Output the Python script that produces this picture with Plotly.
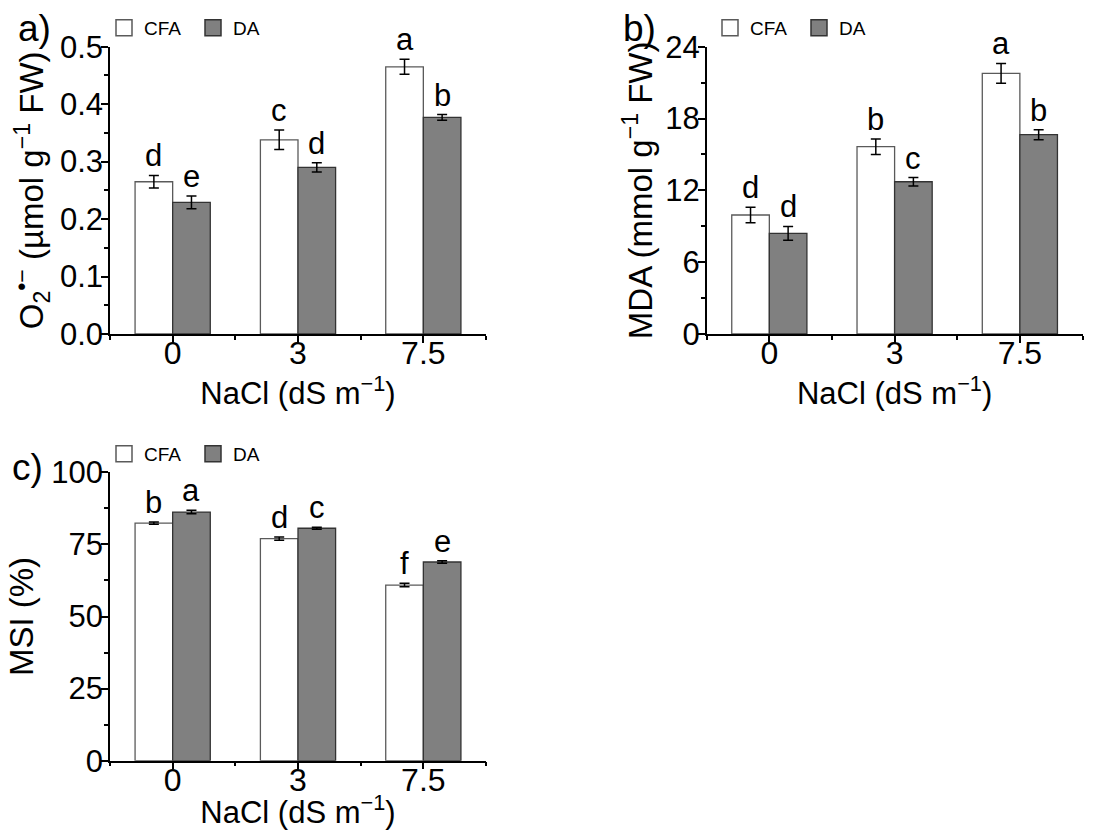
import plotly.graph_objects as go

# ---------------- data ----------------
nacl_labels = ["0", "3", "7.5"]
series_names = ["CFA", "DA"]

o2_cfa = [0.265, 0.338, 0.465]
o2_cfa_err = [0.011, 0.017, 0.013]
o2_da = [0.229, 0.290, 0.377]
o2_da_err = [0.011, 0.008, 0.005]
o2_cfa_letters = ["d", "c", "a"]
o2_da_letters = ["e", "d", "b"]

mda_cfa = [9.94, 15.65, 21.77]
mda_cfa_err = [0.64, 0.65, 0.83]
mda_da = [8.41, 12.72, 16.65]
mda_da_err = [0.58, 0.35, 0.42]
mda_cfa_letters = ["d", "b", "a"]
mda_da_letters = ["d", "c", "b"]

msi_cfa = [82.4, 77.0, 60.9]
msi_cfa_err = [0.4, 0.6, 0.6]
msi_da = [86.2, 80.6, 68.9]
msi_da_err = [0.6, 0.35, 0.45]
msi_cfa_letters = ["b", "d", "f"]
msi_da_letters = ["a", "c", "e"]

# ---------------- style ----------------
FONT = "Liberation Sans, Arial, sans-serif"
CFA_FILL, CFA_LINE = "white", "#5a5a5a"
DA_FILL, DA_LINE = "#808080", "#333333"
BAR_W = 0.3

fig = go.Figure()

panels = [
    dict(xa="x", ya="y", leg="legend", cfa=o2_cfa, cfae=o2_cfa_err, da=o2_da, dae=o2_da_err,
         lc=o2_cfa_letters, ld=o2_da_letters),
    dict(xa="x2", ya="y2", leg="legend2", cfa=mda_cfa, cfae=mda_cfa_err, da=mda_da, dae=mda_da_err,
         lc=mda_cfa_letters, ld=mda_da_letters),
    dict(xa="x3", ya="y3", leg="legend3", cfa=msi_cfa, cfae=msi_cfa_err, da=msi_da, dae=msi_da_err,
         lc=msi_cfa_letters, ld=msi_da_letters),
]

xpos = list(range(len(nacl_labels)))
annotations = []
for p in panels:
    for name, vals, errs, fill, line, letters, off in [
        ("CFA", p["cfa"], p["cfae"], CFA_FILL, CFA_LINE, p["lc"], -BAR_W / 2),
        ("DA", p["da"], p["dae"], DA_FILL, DA_LINE, p["ld"], BAR_W / 2),
    ]:
        fig.add_trace(go.Bar(
            x=xpos, y=vals, name=name, xaxis=p["xa"], yaxis=p["ya"],
            marker=dict(color=fill, line=dict(color=line, width=1.3)),
            error_y=dict(type="data", array=errs, visible=True, color="black",
                         thickness=1.5, width=5),
            showlegend=False,
        ))
        # legend proxy
        fig.add_trace(go.Scatter(
            x=[None], y=[None], mode="markers", name=name, xaxis=p["xa"], yaxis=p["ya"],
            marker=dict(symbol="square", size=22, color=fill, line=dict(color=line, width=1.5)),
            legend=p["leg"], showlegend=True,
        ))
        for i, (v, e, t) in enumerate(zip(vals, errs, letters)):
            annotations.append(dict(
                x=xpos[i] + off, y=v + e, xref=p["xa"], yref=p["ya"], text=t,
                showarrow=False, yanchor="bottom", xanchor="center", yshift=0,
                font=dict(family=FONT, size=31, color="black"),
            ))

# panel labels
for txt, x, y in [("a)", 0.031, 0.966), ("b)", 0.581, 0.966), ("c)", 0.025, 0.437)]:
    annotations.append(dict(x=x, y=y, xref="paper", yref="paper", text=txt, showarrow=False,
                            xanchor="center", yanchor="middle",
                            font=dict(family=FONT, size=37, color="black")))

def xaxis_cfg(domain, anchor):
    return dict(
        domain=domain, anchor=anchor, range=[-0.5, 2.5],
        tickmode="array", tickvals=xpos, ticktext=nacl_labels,
        showline=True, linecolor="black", linewidth=1.5,
        ticks="outside", ticklen=7, tickwidth=1.5, tickcolor="black",
        ticklabelstandoff=-17,
        minor=dict(tickmode="array", tickvals=[-0.5, 0.5, 1.5, 2.5], ticks="outside",
                   ticklen=4, tickwidth=1.5, tickcolor="black"),
        showgrid=False, zeroline=False, automargin=False,
        tickfont=dict(family=FONT, size=32, color="black"),
        title=dict(text="NaCl (dS m<sup>−1</sup>)", standoff=0,
                   font=dict(family=FONT, size=31, color="black")),
    )

def yaxis_cfg(domain, anchor, rng, dtick, minor_dtick, title, fmt, standoff):
    return dict(
        domain=domain, anchor=anchor, range=rng, dtick=dtick, tick0=0, tickformat=fmt,
        showline=True, linecolor="black", linewidth=1.5,
        ticks="outside", ticklen=7, tickwidth=1.5, tickcolor="black",
        ticklabelstandoff=-8,
        minor=dict(dtick=minor_dtick, tick0=0, ticks="outside", ticklen=4, tickwidth=1.5,
                   tickcolor="black"),
        showgrid=False, zeroline=False, automargin=False,
        tickfont=dict(family=FONT, size=31, color="black"),
        title=dict(text=title, standoff=standoff, font=dict(family=FONT, size=33, color="black")),
    )

top_dom = [1 - 334 / 830, 1 - 46.7 / 830]
bot_dom = [1 - 760.7 / 830, 1 - 472.3 / 830]
left_dom = [110 / 1100, 486 / 1100]
right_dom = [706.7 / 1100, 1082.5 / 1100]

def legend_cfg(x, y):
    return dict(x=x, y=y, xanchor="left", yanchor="middle", orientation="h",
                font=dict(family=FONT, size=19, color="black"), bgcolor="rgba(0,0,0,0)",
                itemsizing="trace", tracegroupgap=0, itemwidth=30,
                entrywidth=44, entrywidthmode="pixels")

fig.update_layout(
    width=1100, height=830, template="none",
    margin=dict(l=0, r=0, t=0, b=0),
    paper_bgcolor="white", plot_bgcolor="white",
    barmode="group", bargap=0.4, bargroupgap=0,
    xaxis=xaxis_cfg(left_dom, "y"),
    yaxis=yaxis_cfg(top_dom, "x", [0, 0.5], 0.1, 0.05,
                    "O<sub>2</sub><sup>•−</sup> (µmol g<sup>−1</sup> FW)", ".1f", 6),
    xaxis2=xaxis_cfg(right_dom, "y2"),
    yaxis2=yaxis_cfg(top_dom, "x2", [0, 24], 6, 3, "MDA (mmol g<sup>−1</sup> FW)", "d", 3),
    xaxis3=xaxis_cfg(left_dom, "y3"),
    yaxis3=yaxis_cfg(bot_dom, "x3", [0, 100], 25, 12.5, "MSI (%)", "d", 8),
    legend=legend_cfg(104 / 1100, 1 - 28 / 830),
    legend2=legend_cfg(710 / 1100, 1 - 28 / 830),
    legend3=legend_cfg(104 / 1100, 1 - 454 / 830),
    annotations=annotations,
    font=dict(family=FONT, color="black"),
)

fig.write_html("out.html")
